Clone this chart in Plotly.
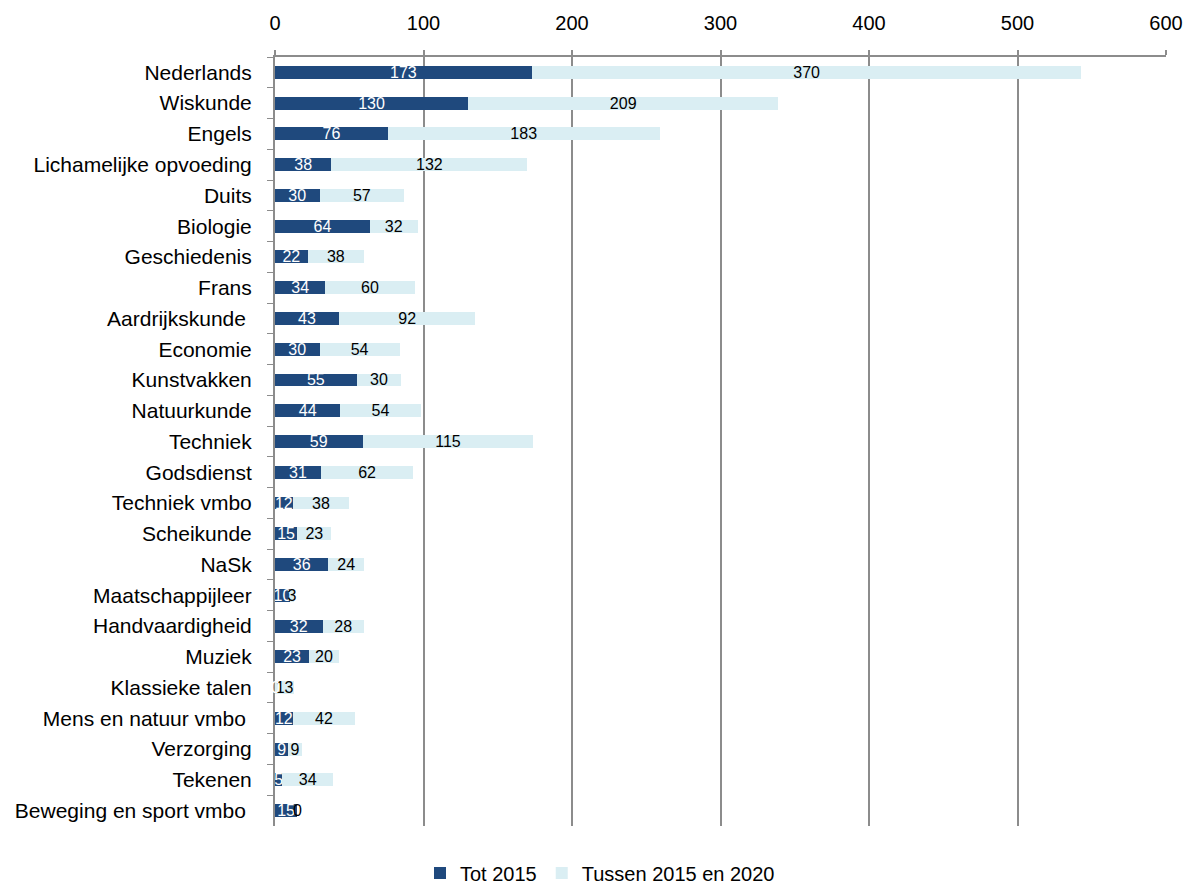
import plotly.graph_objects as go

categories = ["Nederlands", "Wiskunde", "Engels", "Lichamelijke opvoeding", "Duits", "Biologie",
              "Geschiedenis", "Frans", "Aardrijkskunde ", "Economie", "Kunstvakken", "Natuurkunde",
              "Techniek", "Godsdienst", "Techniek vmbo", "Scheikunde", "NaSk", "Maatschappijleer",
              "Handvaardigheid", "Muziek", "Klassieke talen", "Mens en natuur vmbo ", "Verzorging",
              "Tekenen", "Beweging en sport vmbo "]
tot_2015 = [173, 130, 76, 38, 30, 64, 22, 34, 43, 30, 55, 44, 59, 31, 12, 15, 36, 10, 32, 23, 0, 12, 9, 5, 15]
tussen_2015_2020 = [370, 209, 183, 132, 57, 32, 38, 60, 92, 54, 30, 54, 115, 62, 38, 23, 24, 3, 28, 20, 13, 42, 9, 34, 0]
series_names = ["Tot 2015", "Tussen 2015 en 2020"]
x_ticks = [0, 100, 200, 300, 400, 500, 600]

FONT = "Liberation Sans, Arial, sans-serif"
DARK = "#1F497D"
LIGHT = "#DAEEF3"

fig = go.Figure()
fig.add_trace(go.Bar(
    y=categories, x=tot_2015, name=series_names[0], orientation="h",
    marker=dict(color=DARK, line=dict(width=0)),
    text=[str(v) for v in tot_2015], textposition="inside", insidetextanchor="middle",
    textangle=0, constraintext="none",
    textfont=dict(color="white", size=16, family=FONT),
    cliponaxis=False,
))
fig.add_trace(go.Bar(
    y=categories, x=tussen_2015_2020, name=series_names[1], orientation="h",
    marker=dict(color=LIGHT, line=dict(width=0)),
    text=[str(v) for v in tussen_2015_2020], textposition="inside", insidetextanchor="middle",
    textangle=0, constraintext="none",
    textfont=dict(color="black", size=16, family=FONT),
    cliponaxis=False,
))

# labels for zero-length segments (not drawn by bars themselves)
annotations = []
for cat, a, b in zip(categories, tot_2015, tussen_2015_2020):
    if a == 0:
        annotations.append(dict(x=0, y=cat, xref="x", yref="y", text="0", showarrow=False,
                                font=dict(color="white", size=16, family=FONT)))
    if b == 0:
        annotations.append(dict(x=a, y=cat, xref="x", yref="y", text="0", showarrow=False,
                                font=dict(color="black", size=16, family=FONT)))

fig.update_layout(
    barmode="stack",
    bargap=0.58,
    width=1184, height=879,
    margin=dict(l=267, r=26, t=49, b=61, autoexpand=False),
    paper_bgcolor="white", plot_bgcolor="white",
    font=dict(family=FONT, size=20, color="black"),
    uniformtext=dict(minsize=16, mode="show"),
    legend=dict(orientation="h", xref="container", x=0.5, xanchor="center",
                y=-0.061, yanchor="middle",
                font=dict(size=20), traceorder="normal"),
    showlegend=True,
    annotations=annotations,
)
fig.update_xaxes(
    side="top", range=[0, 600], tickvals=x_ticks, ticktext=[str(t) for t in x_ticks],
    showgrid=True, gridcolor="#8C8C8C", gridwidth=1.5,
    showline=True, linecolor="#8C8C8C", linewidth=1.5,
    ticks="outside", ticklen=5, tickcolor="#8C8C8C", tickwidth=1.5,
    ticklabelstandoff=12, zeroline=False, automargin=False,
    tickfont=dict(size=20),
)
fig.update_yaxes(
    autorange="reversed", showline=True, linecolor="#8C8C8C", linewidth=2,
    ticks="outside", ticklen=6, tickcolor="#8C8C8C", tickson="boundaries",
    showgrid=False, ticklabelstandoff=17, tickfont=dict(size=21), automargin=False,
)

fig.write_html("out.html")
